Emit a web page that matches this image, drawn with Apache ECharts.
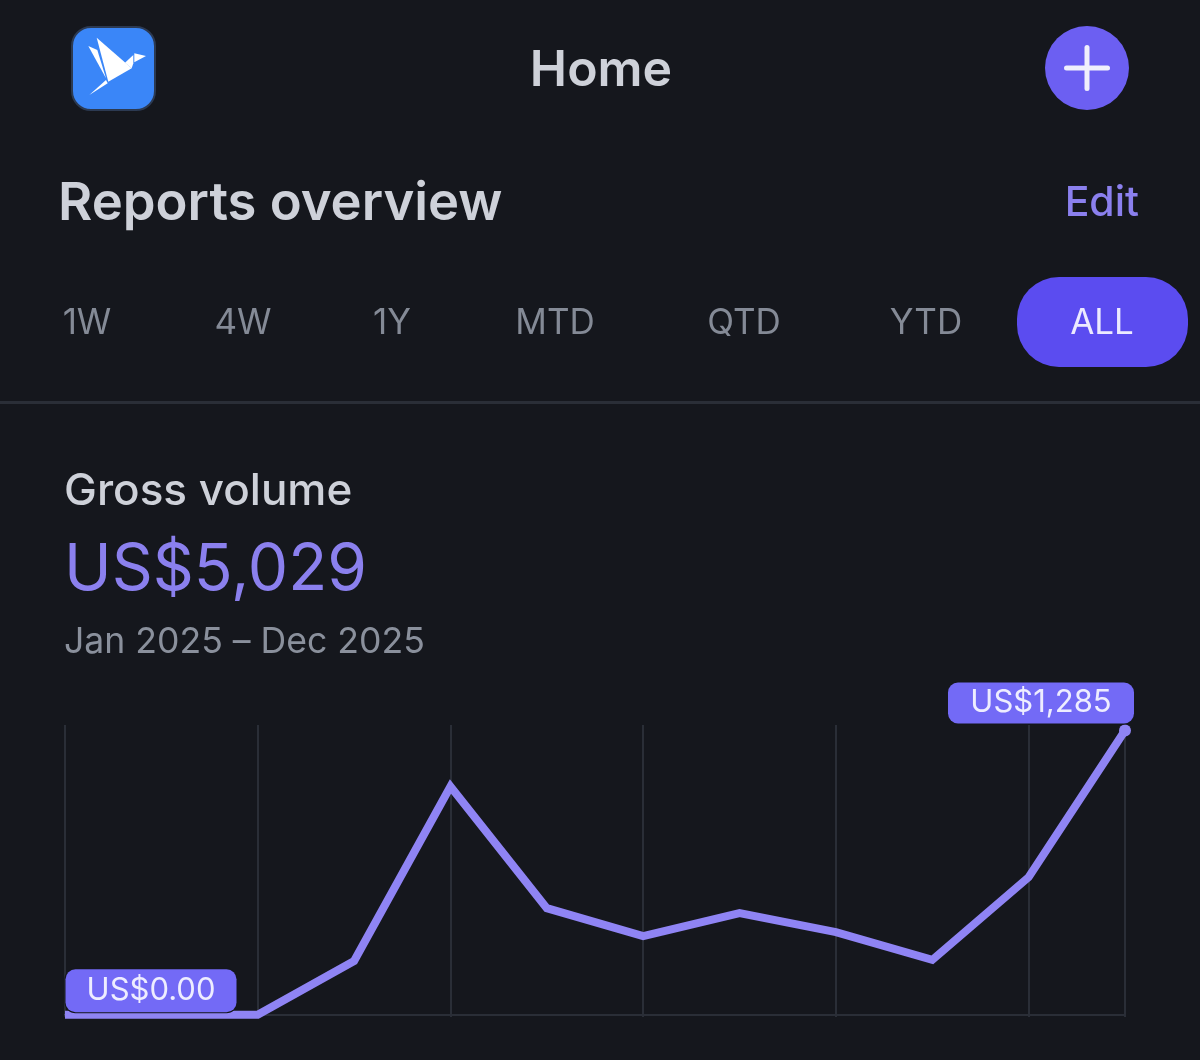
<!DOCTYPE html>
<html>
<head>
<meta charset="utf-8">
<title>Reports overview</title>
<script src="https://cdn.jsdelivr.net/npm/echarts@6/dist/echarts.min.js"></script>
<style>
html, body { margin: 0; padding: 0; background: #15171d; }
#main { width: 1200px; height: 1060px; }
</style>
</head>
<body>
<div id="main"></div>
<script type="text/javascript">
var months = ['Jan', 'Feb', 'Mar', 'Apr', 'May', 'Jun', 'Jul', 'Aug', 'Sep', 'Oct', 'Nov', 'Dec'];
var grossVolume = [0, 0, 0, 243, 1032, 482, 356, 460, 374, 248, 622, 1285];
var tabs = ['1W', '4W', '1Y', 'MTD', 'QTD', 'YTD', 'ALL'];
var tabX = [87, 243, 392, 555, 744, 926, 1102];

var FONT = 'Inter, "Noto Sans", sans-serif';
var GRID = '#2a2e37';

var myChart = echarts.init(document.getElementById('main'), null, { renderer: 'canvas' });

function text(x, y, str, size, color, weight, align) {
    return {
        type: 'text', x: x, y: y, z: 10,
        style: {
            text: str, fill: color, font: (weight || 400) + ' ' + size + 'px ' + FONT,
            textAlign: align || 'left', textVerticalAlign: 'middle'
        }
    };
}
function poly(points) {
    return { type: 'polygon', z: 11, shape: { points: points }, style: { fill: '#fff' } };
}

var graphics = [
    // logo
    { type: 'rect', z: 10, shape: { x: 72, y: 27, width: 83, height: 83, r: 19 },
      style: { fill: '#3a86f8', stroke: '#2c3a52', lineWidth: 2 } },
    poly([[96.7, 37.7], [131.7, 68.3], [108.3, 81.7]]),
    poly([[88.3, 46], [97.3, 50], [106, 78.3]]),
    poly([[89.3, 95], [106, 80], [107.7, 83.3]]),
    poly([[125, 62.7], [133.3, 55], [133.3, 63.3], [131.7, 68.3]]),
    poly([[134.3, 53.3], [146, 56], [134.3, 62.3]]),
    // header
    text(601, 71, 'Home', 50, '#ced1d9', 600, 'center'),
    { type: 'circle', z: 10, shape: { cx: 1087, cy: 68, r: 42 }, style: { fill: '#6c5ff2' } },
    { type: 'rect', z: 11, shape: { x: 1064, y: 65.5, width: 46, height: 5, r: 2.5 }, style: { fill: '#f0effc' } },
    { type: 'rect', z: 11, shape: { x: 1084.5, y: 45, width: 5, height: 46, r: 2.5 }, style: { fill: '#f0effc' } },
    text(58, 204, 'Reports overview', 52.6, '#ced1d9', 600),
    text(1139, 204, 'Edit', 41, '#8b80ee', 500, 'right'),
    // selected range
    { type: 'rect', z: 10, shape: { x: 1017, y: 277, width: 171, height: 90, r: 42 }, style: { fill: '#5b4cf0' } },
    { type: 'rect', z: 10, shape: { x: 0, y: 401, width: 1200, height: 3 }, style: { fill: GRID } },
    text(64, 492, 'Gross volume', 44, '#ced1d9', 500),
    text(64, 571, 'US$5,029', 64, '#8b80ee', 400),
    text(64, 642, 'Jan 2025 \u2013 Dec 2025', 35.6, '#8a909c', 400)
];
for (var i = 0; i < tabs.length; i++) {
    var t = text(tabX[i], 323, tabs[i], 35, i == 6 ? '#eceaff' : '#848a96', 400, 'center');
    t.z = 12;
    graphics.push(t);
}

function pill(offset, distance, width, height) {
    return {
        show: true, position: 'top', distance: distance, offset: [offset, 0],
        width: width, height: height, lineHeight: height, align: 'center',
        padding: [6, 7], borderRadius: 10,
        backgroundColor: '#736af6', borderColor: '#15171d', borderWidth: 1,
        color: '#eeedff', fontFamily: FONT, fontSize: 31,
        formatter: function (p) {
            return p.value == 0 ? 'US$0.00' : 'US$' + p.value.toLocaleString('en-US');
        }
    };
}

var seriesData = grossVolume.map(function (v, idx) {
    var item = { value: v, symbol: 'none' };
    if (idx == 0) {
        item.symbol = 'circle';
        item.symbolSize = 1;
        item.label = pill(86, 2, 157, 31);
    }
    if (idx == months.length - 1) {
        item.symbol = 'circle';
        item.symbolSize = 12;
        item.label = pill(-84, 1, 172, 29);
    }
    return item;
});

var option = {
    backgroundColor: '#15171d',
    animation: false,
    graphic: graphics,
    grid: { left: 65, right: 75, top: 725, bottom: 43 },
    xAxis: {
        type: 'category',
        boundaryGap: false,
        data: months,
        axisLabel: { show: false },
        axisTick: { show: false },
        axisLine: { lineStyle: { color: GRID, width: 2 } },
        splitLine: {
            show: true,
            interval: function (idx) { return idx % 2 == 0 || idx == months.length - 1; },
            lineStyle: { color: GRID, width: 2 }
        }
    },
    yAxis: {
        type: 'value',
        min: -10,
        max: 1310,
        show: false
    },
    series: [{
        name: 'Gross volume',
        type: 'line',
        data: seriesData,
        showSymbol: true,
        clip: false,
        lineStyle: { color: '#8f84f4', width: 8, join: 'miter' },
        itemStyle: { color: '#8f84f4' },
        z: 5
    }]
};

myChart.setOption(option);
</script>
</body>
</html>
